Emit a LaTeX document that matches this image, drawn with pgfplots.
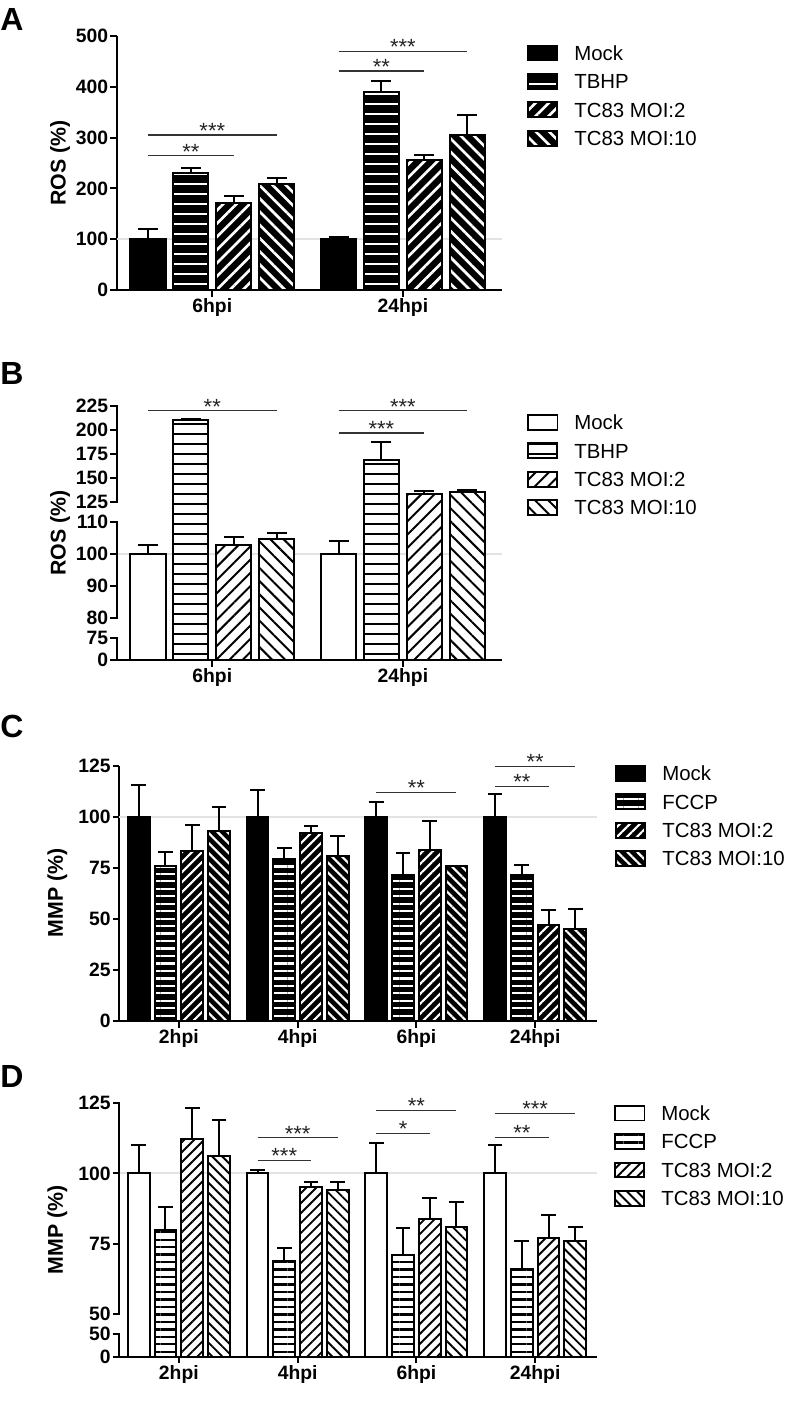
\documentclass[border=0pt]{standalone}
\usepackage{fontspec}
\setmainfont{Liberation Sans}
\usepackage{pgfplots}
\pgfplotsset{compat=1.18}
\usepackage{pgfplotstable}
\usetikzlibrary{patterns.meta}

% values: bar height and upper error
\pgfplotstableread{
g mock mocke tb tbe m2 m2e m10 m10e
0 100 20 231 10 171 14 208 12
1 100 4 389 22 256 9 306 38
}\dataA
\pgfplotstableread{
g mock mocke tb tbe m2 m2e m10 m10e
0 100 2.8 210 1.5 102.8 2.3 104.5 2.1
1 100 3.9 168.9 19 133.3 3 135.7 1.8
}\dataB
\pgfplotstableread{
g mock mocke tb tbe m2 m2e m10 m10e
0 100 15.7 76.1 6.6 83.2 13 93 11.9
1 100 13.2 79.4 5.4 92 3.6 81 9.8
2 100 7.2 71.6 10.6 83.7 14.5 76 0
3 100 11.1 71.6 5 46.9 7.5 45.3 9.6
}\dataC
\pgfplotstableread{
g mock mocke tb tbe m2 m2e m10 m10e
0 100 10.1 80 8.1 112.1 11.2 106.2 12.8
1 100 1.2 68.8 4.8 95.1 1.9 94.2 2.8
2 100 11 71 9.7 83.9 7.3 81 8.9
3 100 10.1 65.8 10 76.9 8.2 76.1 4.9
}\dataD

\tikzset{
  barline/.style={draw=black, line width=1.5pt},
  solid bar/.style={barline, fill=#1},
  stripes/.style n args={5}{barline, preaction={fill=#1},
    preaction={pattern={Lines[angle=#3,distance=#4,line width=#5]}, pattern color=#2}},
}

\pgfplotsset{
  panel/.style={
    scale only axis, clip=false,
    axis x line*=bottom, axis y line*=left,
    axis line style={line width=1.5pt, -},
    tick align=outside, major tick length=5pt,
    tick style={line width=1.5pt, black},
    tick label style={font=\bfseries\fontsize{14.5}{16}\selectfont, inner sep=1.5pt},
    /pgf/number format/assume math mode=true,
    ybar, bar width=0.184,
    error bars/y dir=plus, error bars/y explicit,
    error bars/error bar style={line width=1.5pt, black},
    error bars/error mark options={rotate=90, line width=1.5pt, black, mark size=7.5pt},
    legend image code/.code={\draw[##1, line width=1.2pt] (0pt,-5.6pt) rectangle (22pt,5.6pt); \path (34pt,0pt);},
    legend style={draw=none, fill=none, inner sep=0pt, anchor=north west, row sep=8.9pt,
      font=\fontsize{15.3}{15.3}\selectfont,
      nodes={inner sep=0pt, text height=10.7pt, text depth=0pt}},
    legend cell align=left,
  },
  refline/.style={sharp plot, gray!22, line width=1.5pt, forget plot, error bars/y dir=none},
  % error bar of a broken-axis panel: a comb to mean+error, hidden below the bar
  errcomb/.style={ycomb, black, line width=1.5pt, forget plot, error bars/y dir=none,
    mark=-, mark size=#1, mark options={line width=1.5pt}},
}

\newcommand{\sig}[4]{\draw[line width=0.9pt, black!80] (axis cs:#1,#3) -- (axis cs:#2,#3)
  node[midway, anchor=base, yshift=-2.5pt, font=\fontsize{16.5}{16.5}\selectfont, text=black!85] {#4};}

\begin{document}
\begin{tikzpicture}
\path (0pt,0pt) rectangle (600pt,1053pt);

% ---- A
\begin{axis}[panel, at={(87.75pt,835.5pt)}, anchor=south west, width=288.75pt, height=190.5pt,
  xmin=-0.5, xmax=1.52, ymin=0, ymax=500,
  xtick={0,1}, xticklabels={6hpi,24hpi}, ytick={0,100,...,500},
  legend style={at={(1.0649,0.966)}}]
\addplot[refline] coordinates {(-0.5,100) (1.52,100)};
\addplot[bar shift=-0.3375, solid bar=black] table[x=g, y=mock, y error=mocke] {\dataA};
\addplot[bar shift=-0.1125, stripes={black}{white}{0}{7.5pt}{2.2pt}] table[x=g, y=tb, y error=tbe] {\dataA};
\addplot[bar shift=0.1125, stripes={black}{white}{45}{7pt}{2pt}] table[x=g, y=m2, y error=m2e] {\dataA};
\addplot[bar shift=0.3375, stripes={black}{white}{-45}{7pt}{2pt}] table[x=g, y=m10, y error=m10e] {\dataA};
\legend{Mock,TBHP,TC83 MOI:2,TC83 MOI:10}
\sig{-0.3375}{0.1125}{264}{**}
\sig{-0.3375}{0.3375}{305}{***}
\sig{0.6625}{1.1125}{431}{**}
\sig{0.6625}{1.3375}{470}{***}
\end{axis}

% ---- B (broken y axis)
\begin{axis}[panel, at={(87.75pt,558pt)}, anchor=south west, width=288.75pt, height=190.5pt,
  y coord trafo/.code={\pgfmathparse{ifthenelse(#1<=75,#1*0.289333,ifthenelse(#1<=80,21.7+(#1-75)*4,ifthenelse(#1<=110,41.7+(#1-80)*3.22,ifthenelse(#1<=125,138.3+(#1-110)*1.293333,157.7+(#1-125)*0.963))))}},
  y axis line style={draw=none}, error bars/y dir=none,
  xmin=-0.5, xmax=1.52, ymin=0, ymax=225,
  xtick={0,1}, xticklabels={6hpi,24hpi},
  ytick={0,75,80,90,100,110,125,150,175,200,225},
  yticklabels={0,75,80,90,100,110,125,150,175,200,225},
  legend style={at={(1.0649,0.9685)}}]
\addplot[refline] coordinates {(-0.5,100) (1.52,100)};
\addplot[errcomb=7.5pt] table[x expr=\thisrow{g}-0.3375, y expr=\thisrow{mock}+\thisrow{mocke}] {\dataB};
\addplot[errcomb=7.5pt] table[x expr=\thisrow{g}-0.1125, y expr=\thisrow{tb}+\thisrow{tbe}] {\dataB};
\addplot[errcomb=7.5pt] table[x expr=\thisrow{g}+0.1125, y expr=\thisrow{m2}+\thisrow{m2e}] {\dataB};
\addplot[errcomb=7.5pt] table[x expr=\thisrow{g}+0.3375, y expr=\thisrow{m10}+\thisrow{m10e}] {\dataB};
\addplot[bar shift=-0.3375, solid bar=white] table[x=g, y=mock] {\dataB};
\addplot[bar shift=-0.1125, stripes={white}{black}{0}{7.5pt}{1.8pt}] table[x=g, y=tb] {\dataB};
\addplot[bar shift=0.1125, stripes={white}{black}{45}{7pt}{1.5pt}] table[x=g, y=m2] {\dataB};
\addplot[bar shift=0.3375, stripes={white}{black}{-45}{7pt}{1.5pt}] table[x=g, y=m10] {\dataB};
\legend{Mock,TBHP,TC83 MOI:2,TC83 MOI:10}
\draw[line width=1.5pt, line cap=rect] (axis cs:-0.5,225) -- (axis cs:-0.5,125);
\draw[line width=1.5pt, line cap=rect] (axis cs:-0.5,110) -- (axis cs:-0.5,80);
\draw[line width=1.5pt, line cap=rect] (axis cs:-0.5,75) -- (axis cs:-0.5,0);
\sig{-0.3375}{0.3375}{220}{**}
\sig{0.6625}{1.1125}{197}{***}
\sig{0.6625}{1.3375}{220}{***}
\end{axis}

% ---- C
\begin{axis}[panel, at={(89.6pt,287.25pt)}, anchor=south west, width=358.1pt, height=191.25pt,
  error bars/error mark options={rotate=90, line width=1.5pt, black, mark size=5.5pt},
  xmin=-0.5, xmax=3.52, ymin=0, ymax=125,
  xtick={0,1,2,3}, xticklabels={2hpi,4hpi,6hpi,24hpi}, ytick={0,25,...,125},
  legend style={at={(1.0377,1.004)}}]
\addplot[refline] coordinates {(-0.5,100) (3.52,100)};
\addplot[bar shift=-0.3375, solid bar=black] table[x=g, y=mock, y error=mocke] {\dataC};
\addplot[bar shift=-0.1125, stripes={black}{white}{0}{5.6pt}{1.7pt}] table[x=g, y=tb, y error=tbe] {\dataC};
\addplot[bar shift=0.1125, stripes={black}{white}{45}{5.3pt}{1.6pt}] table[x=g, y=m2, y error=m2e] {\dataC};
\addplot[bar shift=0.3375, stripes={black}{white}{-45}{5.3pt}{1.6pt}] table[x=g, y=m10, y error=m10e] {\dataC};
\legend{Mock,FCCP,TC83 MOI:2,TC83 MOI:10}
\sig{1.6625}{2.3375}{112.1}{**}
\sig{2.6625}{3.1125}{115}{**}
\sig{2.6625}{3.3375}{124.8}{**}
\end{axis}

% ---- D (broken y axis)
\begin{axis}[panel, at={(89.6pt,35.5pt)}, anchor=south west, width=358.1pt, height=190.05pt,
  y coord trafo/.code={\pgfmathparse{ifthenelse(#1<=49.9,#1*0.454910,ifthenelse(#1<=50,22.7+(#1-49.9)*200,42.7+(#1-50)*2.8))}},
  y axis line style={draw=none}, error bars/y dir=none,
  xmin=-0.5, xmax=3.52, ymin=0, ymax=125,
  xtick={0,1,2,3}, xticklabels={2hpi,4hpi,6hpi,24hpi},
  ytick={0,49.9,50,75,100,125}, yticklabels={0,50,50,75,100,125},
  legend style={at={(1.0356,0.9945)}}]
\addplot[refline] coordinates {(-0.5,100) (3.52,100)};
\addplot[errcomb=5.5pt] table[x expr=\thisrow{g}-0.3375, y expr=\thisrow{mock}+\thisrow{mocke}] {\dataD};
\addplot[errcomb=5.5pt] table[x expr=\thisrow{g}-0.1125, y expr=\thisrow{tb}+\thisrow{tbe}] {\dataD};
\addplot[errcomb=5.5pt] table[x expr=\thisrow{g}+0.1125, y expr=\thisrow{m2}+\thisrow{m2e}] {\dataD};
\addplot[errcomb=5.5pt] table[x expr=\thisrow{g}+0.3375, y expr=\thisrow{m10}+\thisrow{m10e}] {\dataD};
\addplot[bar shift=-0.3375, solid bar=white] table[x=g, y=mock] {\dataD};
\addplot[bar shift=-0.1125, stripes={white}{black}{0}{5.6pt}{1.8pt}] table[x=g, y=tb] {\dataD};
\addplot[bar shift=0.1125, stripes={white}{black}{45}{5.3pt}{1.4pt}] table[x=g, y=m2] {\dataD};
\addplot[bar shift=0.3375, stripes={white}{black}{-45}{5.3pt}{1.4pt}] table[x=g, y=m10] {\dataD};
\legend{Mock,FCCP,TC83 MOI:2,TC83 MOI:10}
\draw[line width=1.5pt, line cap=rect] (axis cs:-0.5,125) -- (axis cs:-0.5,50);
\draw[line width=1.5pt, line cap=rect] (axis cs:-0.5,49.9) -- (axis cs:-0.5,0);
\sig{0.6625}{1.1125}{104.6}{***}
\sig{0.6625}{1.3375}{112.7}{***}
\sig{1.6625}{2.1125}{114.2}{*}
\sig{1.6625}{2.3375}{122.4}{**}
\sig{2.6625}{3.1125}{112.9}{**}
\sig{2.6625}{3.3375}{121.3}{***}
\end{axis}

% panel letters and y labels
\begin{scope}[every node/.style={inner sep=0pt}]
\node[anchor=north west, font=\bfseries\fontsize{24}{24}\selectfont] at (0pt,1047pt) {A};
\node[anchor=north west, font=\bfseries\fontsize{24}{24}\selectfont] at (0pt,781.5pt) {B};
\node[anchor=north west, font=\bfseries\fontsize{24}{24}\selectfont] at (0pt,516.75pt) {C};
\node[anchor=north west, font=\bfseries\fontsize{24}{24}\selectfont] at (0pt,254.25pt) {D};
\node[rotate=90, font=\bfseries\fontsize{16}{16}\selectfont] at (45pt,930.75pt) {ROS (\%)};
\node[rotate=90, font=\bfseries\fontsize{16}{16}\selectfont] at (45pt,653.25pt) {ROS (\%)};
\node[rotate=90, font=\bfseries\fontsize{16}{16}\selectfont] at (43pt,383.25pt) {MMP (\%)};
\node[rotate=90, font=\bfseries\fontsize{16}{16}\selectfont] at (43pt,130.5pt) {MMP (\%)};
\end{scope}
\end{tikzpicture}
\end{document}
